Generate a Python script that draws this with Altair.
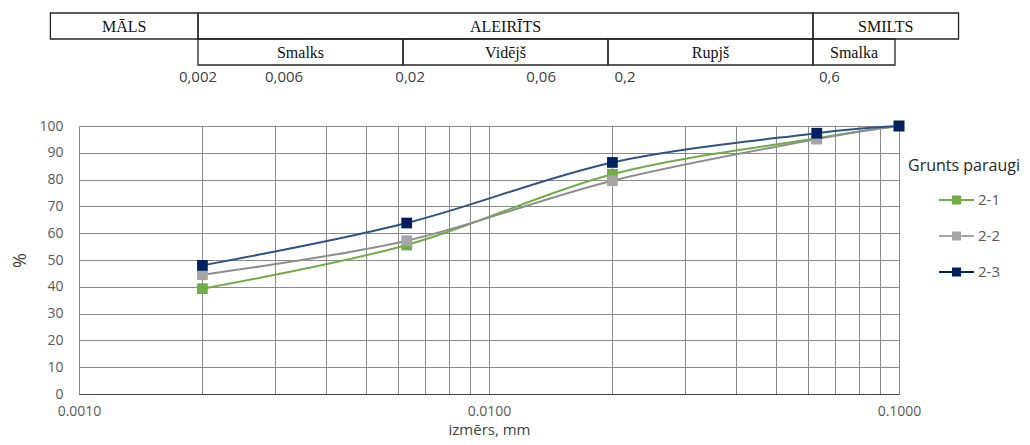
import altair as alt
import pandas as pd

# ---- data ----
sizes = [0.002, 0.0063, 0.02, 0.063, 0.1]
series_names = ["2-1", "2-2", "2-3"]
pct_21 = [39.3, 55.6, 82.0, 95.4, 100.0]
pct_22 = [44.5, 57.2, 79.6, 95.1, 100.0]
pct_23 = [48.0, 63.8, 86.4, 97.3, 100.0]
marker_colors = ["#70AD47", "#A5A5A5", "#002060"]
line_colors = ["#70AD47", "#8E8E8E", "#2E5385"]

x_grid = [0.001, 0.002, 0.003, 0.004, 0.005, 0.006, 0.007, 0.008, 0.009,
          0.01, 0.02, 0.03, 0.04, 0.05, 0.06, 0.07, 0.08, 0.09, 0.1]
y_grid = [0, 10, 20, 30, 40, 50, 60, 70, 80, 90, 100]

# classification table above the plot (column units: one fraction per column)
main_classes = ["MĀLS", "ALEIRĪTS", "SMILTS"]
main_from = [-0.72, 0, 3]
main_to = [0, 3, 3.71]
sub_classes = ["Smalks", "Vidējš", "Rupjš", "Smalka"]
sub_from = [0, 1, 2, 3]
sub_to = [1, 2, 3, 3.4]
bound_labels = ["0,002", "0,006", "0,02", "0,06", "0,2", "0,6"]
bound_at = [0.0, 0.42, 1.035, 1.674, 2.083, 3.08]

# ---- tables ----
rows = []
for name, vals in zip(series_names, [pct_21, pct_22, pct_23]):
    for s, v in zip(sizes, vals):
        rows.append({"size": s, "pct": v, "series": name})
df = pd.DataFrame(rows)

cells = pd.DataFrame(
    [{"label": l, "c0": a, "c1": b, "r0": 0, "r1": 1} for l, a, b in zip(main_classes, main_from, main_to)]
    + [{"label": l, "c0": a, "c1": b, "r0": 1, "r1": 2} for l, a, b in zip(sub_classes, sub_from, sub_to)]
)
bounds = pd.DataFrame({"label": bound_labels, "c": bound_at, "r": [2.45] * len(bound_labels)})

FONT = "Open Sans"
GRID = "#8A8A8A"

x_enc = alt.X(
    "size:Q",
    scale=alt.Scale(type="log", domain=[0.001, 0.1], nice=False),
    axis=alt.Axis(
        values=x_grid,
        labelExpr="abs(log(datum.value)/LN10 - round(log(datum.value)/LN10)) < 0.001 ? format(datum.value, '.4f') : ''",
        labelOverlap=False, labelFlush=False,
        title="izmērs, mm", grid=True, gridColor=GRID, gridWidth=1,
        ticks=False, tickSize=0, domainColor="#404040", domainWidth=1.2,
        labelFont=FONT, labelFontSize=14, labelColor="#595959", labelPadding=10,
        titleFont=FONT, titleFontSize=15, titleColor="#404040", titleFontWeight="normal",
        titlePadding=4,
    ),
)
y_enc = alt.Y(
    "pct:Q",
    scale=alt.Scale(domain=[0, 100], nice=False),
    axis=alt.Axis(
        values=y_grid, title="%", grid=True, gridColor=GRID, gridWidth=1,
        ticks=False, tickSize=0, domain=False,
        labelFont=FONT, labelFontSize=14, labelColor="#595959", labelPadding=16,
        titleFont=FONT, titleFontSize=18, titleColor="#404040", titleFontWeight="normal",
        titlePadding=9,
    ),
)

legend_symbol = "M2.1,-0.1L5.6,-0.1L5.6,0.1L2.1,0.1Z M3.4,-0.45L4.3,-0.45L4.3,0.45L3.4,0.45Z"

lines = alt.Chart(df).mark_line(interpolate="cardinal", strokeWidth=2).encode(
    x=x_enc, y=y_enc,
    color=alt.Color("series:N", scale=alt.Scale(domain=series_names, range=line_colors), legend=None),
    detail="series:N",
)
points = alt.Chart(df).mark_point(shape="square", filled=True, size=115, opacity=1).encode(
    x=x_enc, y=y_enc,
    color=alt.Color(
        "series:N",
        scale=alt.Scale(domain=series_names, range=marker_colors),
        legend=alt.Legend(
            title="Grunts paraugi", orient="none", legendX=829, legendY=32,
            symbolType=legend_symbol, symbolSize=400, symbolStrokeWidth=0,
            labelOffset=50, rowPadding=18, titlePadding=16,
            titleFont=FONT, titleFontSize=16, titleColor="#262626", titleFontWeight="normal",
            labelFont=FONT, labelFontSize=15, labelColor="#595959",
        ),
    ),
)
main = alt.layer(lines, points).resolve_scale(color="independent")

tx = alt.Scale(domain=[0, 3], range=[119, 734], zero=False, nice=False)
ty = alt.Scale(domain=[0, 2], range=[-113, -61], zero=False, nice=False)

cell_rects = alt.Chart(cells).mark_rect(fillOpacity=0, stroke="#262626", strokeWidth=1.3).encode(
    x=alt.X("c0:Q", scale=tx, axis=None), x2="c1:Q",
    y=alt.Y("r0:Q", scale=ty, axis=None), y2="r1:Q",
)
cell_text = alt.Chart(cells).transform_calculate(
    cx="(datum.c0 + datum.c1) / 2", cy="datum.r0 + 0.55"
).mark_text(font="Liberation Serif", fontSize=16, color="#111111", baseline="middle", align="center").encode(
    x=alt.X("cx:Q", scale=tx, axis=None),
    y=alt.Y("cy:Q", scale=ty, axis=None),
    text="label:N",
)
bound_text = alt.Chart(bounds).mark_text(font=FONT, fontSize=15, color="#404040", baseline="middle", align="center").encode(
    x=alt.X("c:Q", scale=tx, axis=None),
    y=alt.Y("r:Q", scale=ty, axis=None),
    text="label:N",
)
table = alt.layer(cell_rects, cell_text, bound_text)

chart = (
    alt.layer(table, main)
    .resolve_scale(x="independent", y="independent", color="independent")
    .properties(width=820, height=268, padding={"left": 3, "top": 4, "right": 0, "bottom": 0},
                background="white")
    .configure_view(stroke=None)
)

chart.save("out.html", embed_options={"renderer": "svg", "actions": False})
